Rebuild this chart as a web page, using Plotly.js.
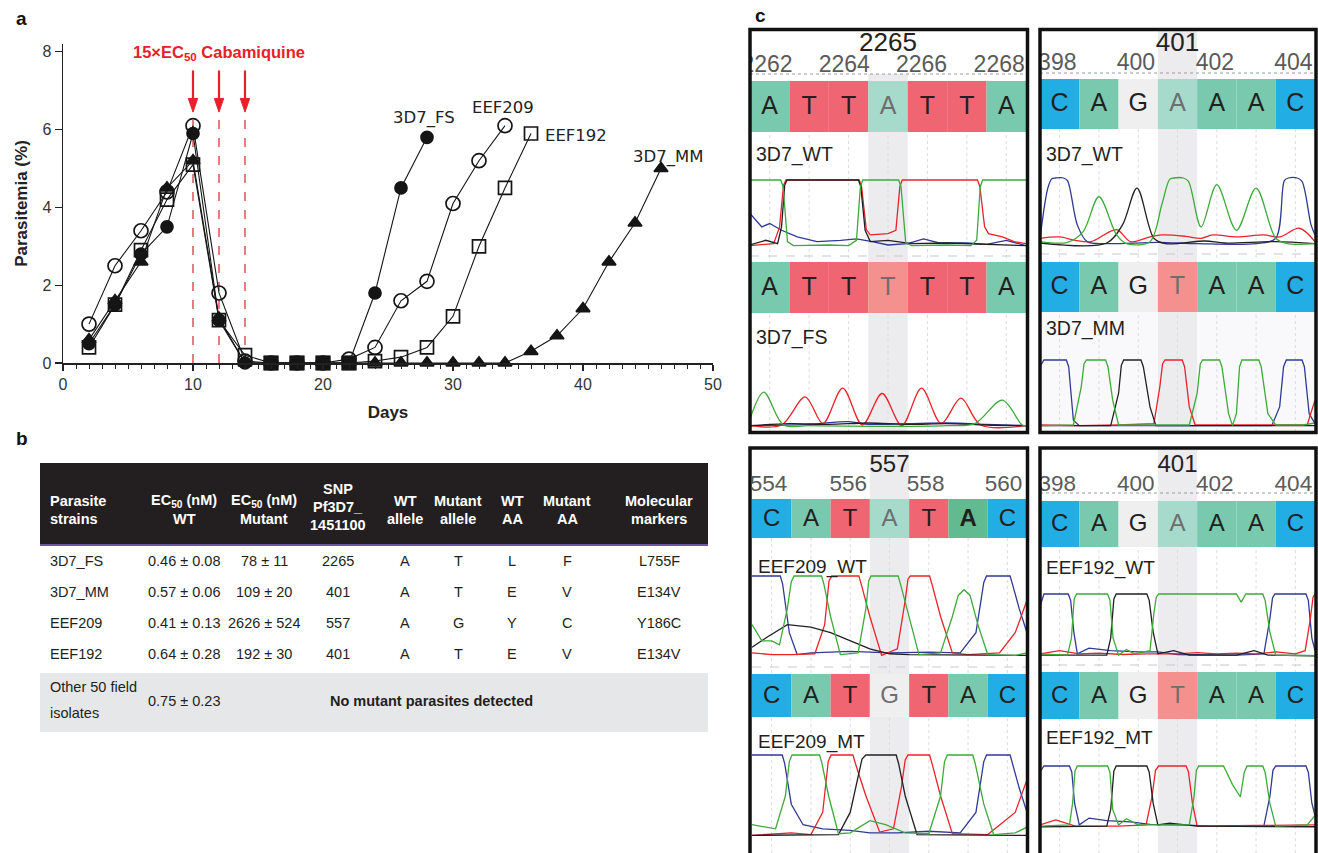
<!DOCTYPE html>
<html><head><meta charset="utf-8">
<script src="https://cdn.plot.ly/plotly-3.0.1.min.js"></script>
<style>html,body{margin:0;padding:0;background:#fff;} #chart{width:1318px;height:853px;}</style>
</head><body><div id="chart"></div>
<script>
// ---------------- Panel a data ----------------
const days = [2,4,6,8,10,12,14,16,18,20,22,24,26,28,30,32,34,36,38,40,42,44,46];
const pct_3D7_FS  = [0.5,1.5,2.8,3.5,5.9,1.1,0,0,0,0,0,1.8,4.5,5.8];
const pct_EEF209  = [1.0,2.5,3.4,4.4,6.1,1.8,0.05,0,0,0,0.1,0.4,1.6,2.1,4.1,5.2,6.1];
const pct_EEF192  = [0.4,1.5,2.9,4.2,5.1,1.1,0.2,0,0,0,0,0.05,0.15,0.4,1.2,3.0,4.5,5.9];
const pct_3D7_MM  = [0.6,1.6,2.6,4.5,5.2,1.15,0,0,0,0,0,0,0,0,0,0,0,0.3,0.7,1.4,2.6,3.6,5.0];
const eef192_solid_days = [16,18,20,22];   // points drawn as solid squares in the original
const dose_days = [10,12,14];
const series_names = ['3D7_FS','EEF209','EEF192','3D7_MM'];

// ---------------- Panel b data ----------------
const tbl_headers = [['Parasite','strains'],['EC<sub>50</sub> (nM)','WT'],['EC<sub>50</sub> (nM)','Mutant'],['SNP','Pf3D7_','1451100'],['WT','allele'],['Mutant','allele'],['WT','AA'],['Mutant','AA'],['Molecular','markers']];
const tbl_strains   = ['3D7_FS','3D7_MM','EEF209','EEF192'];
const tbl_ec50_wt   = ['0.46 ± 0.08','0.57 ± 0.06','0.41 ± 0.13','0.64 ± 0.28'];
const tbl_ec50_mut  = ['78 ± 11','109 ± 20','2626 ± 524','192 ± 30'];
const tbl_snp       = ['2265','401','557','401'];
const tbl_wt_allele = ['A','A','A','A'];
const tbl_mut_allele= ['T','T','G','T'];
const tbl_wt_aa     = ['L','E','Y','E'];
const tbl_mut_aa    = ['F','V','C','V'];
const tbl_markers   = ['L755F','E134V','Y186C','E134V'];
const tbl_other_name = ['Other 50 field','isolates'];
const tbl_other_ec50 = '0.75 ± 0.23';
const tbl_other_note = 'No mutant parasites detected';

// ---------------- Panel c data ----------------
const pos_2265 = [2262,2264,2266,2268]; const snp_2265 = 2265;
const pos_401  = [398,400,402,404];     const snp_401 = 401;
const pos_557  = [554,556,558,560];     const snp_557 = 557;
const seq_2265_WT = ['A','T','T','A','T','T','A'];
const seq_2265_FS = ['A','T','T','T','T','T','A'];
const seq_401_WT  = ['C','A','G','A','A','A','C'];
const seq_401_MM  = ['C','A','G','T','A','A','C'];
const seq_557_WT  = ['C','A','T','A','T','A','C'];
const seq_557_MT  = ['C','A','T','G','T','A','C'];
const seq_401b_WT = ['C','A','G','A','A','A','C'];
const seq_401b_MT = ['C','A','G','T','A','A','C'];
const track_names = ['3D7_WT','3D7_FS','3D7_WT','3D7_MM','EEF209_WT','EEF209_MT','EEF192_WT','EEF192_MT'];

// chromatogram signal read at [base position, relative height]
const chrom_2265_WT = {
 A:[[0.5,1],[1.28,1],[1.34,0.9],[1.45,0.08],[1.6,0.02],[2.5,0.03],[3.0,0.02],[3.2,0.1],[3.3,0.9],[3.36,1],[4.27,1],[4.33,0.9],[4.45,0.06],[4.6,0.02],[5.5,0.03],[6.1,0.02],[6.25,0.1],[6.34,0.9],[6.4,1],[7.5,1]],
 T:[[0.5,0.02],[1.1,0.05],[1.25,0.3],[1.35,0.92],[1.41,1],[3.27,1],[3.33,0.9],[3.45,0.26],[3.55,0.18],[4.0,0.2],[4.2,0.25],[4.3,0.9],[4.36,1],[6.27,1],[6.33,0.9],[6.45,0.3],[6.55,0.2],[6.9,0.15],[7.2,0.08],[7.5,0.05]],
 G:[[0.5,0.03],[0.9,0.1],[1.2,0.05],[1.3,0.3],[1.38,0.92],[1.44,1],[3.25,1],[3.31,0.9],[3.42,0.25],[3.55,0.08],[4.0,0.1],[4.6,0.05],[5.5,0.06],[6.0,0.05],[7.0,0.04],[7.5,0.02]],
 C:[[0.5,0.5],[0.8,0.3],[1.0,0.35],[1.3,0.25],[1.7,0.15],[2.2,0.08],[2.8,0.1],[3.2,0.12],[3.6,0.08],[4.0,0.03],[4.5,0.05],[4.9,0.12],[5.3,0.06],[6.0,0.06],[6.5,0.04],[7.0,0.1],[7.5,0.02]]
};
const chrom_2265_FS = {
 A:[[0.5,0.12],[0.85,0.52],[1.35,0.03],[2,0.02],[5.5,0.02],[6.2,0.05],[6.9,0.4],[7.4,0.03],[7.5,0.02]],
 T:[[0.5,0.02],[1.3,0.03],[1.9,0.45],[2.35,0.05],[2.85,0.58],[3.35,0.03],[3.85,0.5],[4.35,0.02],[4.85,0.58],[5.35,0.05],[5.85,0.43],[6.35,0.03],[7.5,0.02]],
 G:[[0.5,0.02],[1.5,0.05],[2.5,0.04],[3.5,0.06],[4.5,0.04],[5.5,0.05],[6.5,0.03],[7.5,0.02]],
 C:[[0.5,0.02],[2.0,0.04],[3.0,0.08],[3.5,0.04],[4.5,0.05],[5.5,0.06],[6.5,0.04],[7.5,0.02]]
};
const chrom_401_WT = {
 C:[[0.5,0.1],[0.7,0.85],[0.8,0.99],[0.9,1],[1.1,1],[1.2,0.96],[1.45,0.3],[1.7,0.05],[2.2,0.02],[3.5,0.04],[4.5,0.02],[6.0,0.02],[6.5,0.1],[6.72,0.96],[6.82,1],[7.05,1],[7.17,0.95],[7.4,0.3],[7.5,0.15]],
 A:[[0.5,0.05],[1.2,0.04],[1.6,0.2],[2.0,0.72],[2.45,0.15],[2.7,0.02],[3.3,0.05],[3.6,0.6],[3.8,0.98],[3.9,1],[4.15,1],[4.28,0.95],[4.6,0.27],[5.0,0.9],[5.5,0.22],[6.0,0.85],[6.5,0.1],[6.8,0.02],[7.5,0.02]],
 G:[[0.5,0.03],[2.2,0.03],[2.6,0.3],[2.97,0.85],[3.4,0.1],[3.7,0.02],[4.7,0.06],[5.2,0.03],[6.5,0.05],[7.5,0.02]],
 T:[[0.5,0.1],[1.0,0.12],[1.4,0.07],[1.8,0.05],[2.45,0.23],[2.8,0.05],[3.3,0.12],[3.6,0.15],[4.2,0.13],[4.6,0.1],[4.9,0.15],[5.5,0.12],[6.2,0.15],[6.6,0.12],[7.1,0.25],[7.5,0.05]]
};
const chrom_401_MM = {
 C:[[0.5,0.9],[0.6,1],[1.17,1],[1.23,0.9],[1.35,0.1],[1.5,0.02],[6.4,0.02],[6.6,0.3],[6.7,0.9],[6.77,1],[7.17,1],[7.23,0.9],[7.35,0.2],[7.5,0.05]],
 A:[[0.5,0.02],[1.35,0.03],[1.55,0.6],[1.62,0.94],[1.68,1],[2.17,1],[2.23,0.9],[2.35,0.4],[2.5,0.03],[4.3,0.03],[4.5,0.5],[4.58,0.94],[4.64,1],[5.07,1],[5.13,0.9],[5.3,0.2],[5.4,0.02],[5.5,0.2],[5.58,0.9],[5.64,1],[6.07,1],[6.13,0.9],[6.3,0.2],[6.5,0.03],[7.2,0.03],[7.5,0.06]],
 G:[[0.5,0.02],[2.3,0.02],[2.5,0.5],[2.57,0.92],[2.63,1],[3.07,1],[3.13,0.9],[3.3,0.3],[3.45,0.02],[7.5,0.02]],
 T:[[0.5,0.03],[1.5,0.02],[2.5,0.03],[3.4,0.05],[3.55,0.6],[3.62,0.94],[3.68,1],[4.12,1],[4.18,0.9],[4.3,0.3],[4.45,0.03],[7.3,0.03],[7.5,0.4]]
};
const chrom_557_WT = {
 C:[[0.5,1],[1.22,1],[1.28,0.9],[1.45,0.3],[1.65,0.03],[2.0,0.05],[3.0,0.07],[4.0,0.05],[5.0,0.06],[5.8,0.05],[6.2,0.3],[6.4,0.92],[6.47,1],[7.07,1],[7.13,0.9],[7.3,0.6],[7.5,0.3]],
 A:[[0.5,0.4],[0.75,0.2],[1.0,0.2],[1.2,0.15],[1.4,0.6],[1.5,0.93],[1.57,1],[2.27,1],[2.33,0.9],[2.5,0.5],[2.75,0.03],[3.2,0.05],[3.4,0.6],[3.47,0.94],[3.53,1],[4.22,1],[4.28,0.9],[4.5,0.5],[4.75,0.03],[5.3,0.05],[5.6,0.5],[5.75,0.76],[5.9,0.83],[6.05,0.76],[6.25,0.4],[6.5,0.03],[7.2,0.02],[7.5,0.05]],
 G:[[0.5,0.12],[0.9,0.25],[1.4,0.4],[2.0,0.37],[2.5,0.3],[3.0,0.2],[3.5,0.1],[4.0,0.04],[4.5,0.03],[7.5,0.02]],
 T:[[0.5,0.05],[1.0,0.03],[1.5,0.03],[2.1,0.04],[2.35,0.4],[2.46,0.94],[2.53,1],[3.22,1],[3.28,0.9],[3.5,0.5],[3.8,0.02],[4.2,0.1],[4.4,0.7],[4.47,0.96],[4.53,1],[5.02,1],[5.08,0.9],[5.3,0.5],[5.6,0.05],[6.0,0.03],[6.8,0.05],[7.2,0.3],[7.5,0.7]]
};
const chrom_557_MT = {
 C:[[0.5,1],[1.27,1],[1.33,0.9],[1.5,0.4],[1.8,0.15],[2.3,0.1],[3.0,0.08],[3.5,0.05],[4.2,0.05],[5.0,0.07],[5.8,0.05],[6.2,0.3],[6.4,0.92],[6.47,1],[7.07,1],[7.13,0.9],[7.3,0.6],[7.5,0.3]],
 A:[[0.5,0.15],[1.1,0.1],[1.35,0.5],[1.45,0.92],[1.52,1],[2.22,1],[2.28,0.9],[2.45,0.5],[2.7,0.04],[3.0,0.05],[3.5,0.2],[3.9,0.15],[4.4,0.05],[5.0,0.04],[5.3,0.5],[5.4,0.92],[5.47,1],[6.12,1],[6.18,0.9],[6.4,0.4],[6.65,0.03],[7.2,0.05],[7.5,0.12]],
 G:[[0.5,0.02],[2.7,0.03],[3.0,0.3],[3.3,0.95],[3.4,1],[4.17,1],[4.23,0.9],[4.4,0.5],[4.7,0.03],[7.5,0.02]],
 T:[[0.5,0.02],[1.5,0.05],[2.0,0.03],[2.3,0.3],[2.44,0.92],[2.51,1],[3.07,1],[3.13,0.9],[3.4,0.5],[3.75,0.06],[4.1,0.1],[4.3,0.6],[4.4,0.94],[4.47,1],[5.02,1],[5.08,0.9],[5.3,0.5],[5.6,0.04],[6.5,0.03],[7.2,0.3],[7.5,0.7]]
};
const chrom_401b_WT = {
 C:[[0.5,0.8],[0.6,1],[1.22,1],[1.28,0.9],[1.36,0.4],[1.45,0.05],[1.75,0.14],[2.3,0.1],[3.0,0.08],[3.5,0.08],[4.0,0.04],[5.5,0.03],[6.2,0.05],[6.35,0.6],[6.42,0.94],[6.48,1],[7.27,1],[7.33,0.9],[7.42,0.3],[7.5,0.1]],
 A:[[0.5,0.05],[1.2,0.03],[1.3,0.3],[1.37,0.92],[1.43,1],[2.22,1],[2.28,0.9],[2.36,0.3],[2.5,0.03],[2.7,0.12],[2.9,0.05],[3.3,0.1],[3.4,0.7],[3.46,0.95],[3.52,1],[5.5,1],[5.62,0.87],[5.74,1],[6.17,1],[6.23,0.9],[6.35,0.4],[6.5,0.03],[7.5,0.02]],
 G:[[0.5,0.03],[2.2,0.03],[2.3,0.3],[2.38,0.92],[2.44,1],[3.22,1],[3.28,0.9],[3.38,0.4],[3.5,0.05],[3.9,0.1],[4.3,0.03],[5.5,0.03],[5.95,0.1],[6.3,0.03],[7.5,0.02]],
 T:[[0.5,0.05],[1.0,0.1],[1.5,0.05],[2.0,0.06],[2.6,0.04],[3.2,0.05],[4.0,0.05],[4.5,0.07],[5.0,0.05],[5.5,0.06],[6.0,0.05],[6.5,0.08],[7.0,0.05],[7.25,0.1],[7.38,0.6],[7.45,0.95],[7.5,1]]
};
const chrom_401b_MT = {
 C:[[0.5,0.9],[0.6,1],[1.25,1],[1.31,0.9],[1.38,0.4],[1.5,0.05],[1.75,0.16],[2.2,0.12],[2.8,0.1],[3.3,0.06],[4.0,0.05],[5.0,0.03],[6.2,0.04],[6.35,0.5],[6.43,0.93],[6.5,1],[7.27,1],[7.33,0.9],[7.42,0.4],[7.5,0.2]],
 A:[[0.5,0.03],[1.25,0.05],[1.33,0.4],[1.39,0.92],[1.45,1],[2.22,1],[2.28,0.9],[2.35,0.3],[2.5,0.05],[2.7,0.15],[3.0,0.05],[4.3,0.05],[4.42,0.5],[4.48,0.93],[4.54,1],[5.17,1],[5.25,0.9],[5.4,0.7],[5.6,0.5],[5.7,0.9],[5.77,1],[6.17,1],[6.23,0.9],[6.35,0.4],[6.5,0.03],[7.3,0.05],[7.5,0.2]],
 G:[[0.5,0.02],[2.2,0.03],[2.3,0.3],[2.38,0.92],[2.44,1],[3.22,1],[3.28,0.9],[3.38,0.4],[3.5,0.05],[3.8,0.08],[4.5,0.03],[7.5,0.02]],
 T:[[0.5,0.05],[0.9,0.13],[1.4,0.03],[2.5,0.03],[3.2,0.05],[3.35,0.5],[3.44,0.93],[3.52,1],[4.22,1],[4.28,0.9],[4.38,0.4],[4.5,0.03],[6.0,0.04],[7.0,0.05],[7.5,0.05]]
};

// ---------------- layout helpers ----------------
const W = 1318, H = 853;
const SANS = 'Liberation Sans, Arial, Helvetica, sans-serif';
const VERD = 'DejaVu Sans, Verdana, sans-serif';
const px = x => x / W;
const py = y => 1 - y / H;
const traces = [], shapes = [], annotations = [];
const layout = {
  width: W, height: H, margin: {l:0, r:0, t:0, b:0},
  paper_bgcolor: '#ffffff', plot_bgcolor: 'rgba(0,0,0,0)', showlegend: false,
  font: {family: SANS, color: '#222'}
};

// ---------------- Panel a ----------------
layout.xaxis = {domain:[px(63), px(713)], range:[0,50], anchor:'y', tickvals:[0,10,20,30,40,50],
  ticks:'outside', ticklen:6, tickwidth:1.3, tickcolor:'#222', showline:true, linecolor:'#222', linewidth:1.5,
  showgrid:false, zeroline:false, tickfont:{family:SANS, size:16, color:'#333'},
  minor:{tickvals:Array.from({length:49},(_,i)=>i+1), ticks:'outside', ticklen:4, tickwidth:1, tickcolor:'#222', showgrid:false},
  title:{text:'<b>Days</b>', font:{family:SANS, size:17, color:'#222'}, standoff:14}};
layout.yaxis = {domain:[py(363), py(44)], range:[0,8.2], anchor:'x', tickvals:[0,2,4,6,8],
  ticks:'outside', ticklen:7, tickwidth:1.3, tickcolor:'#222', showline:true, linecolor:'#222', linewidth:1.5,
  showgrid:false, zeroline:false, tickfont:{family:SANS, size:16, color:'#333'},
  title:{text:'<b>Parasitemia (%)</b>', font:{family:SANS, size:17, color:'#222'}, standoff:10}};

const INK = '#151515';
function series(y, symbol, size, name){
  return {type:'scatter', mode:'lines+markers', name, x:days.slice(0,y.length), y, xaxis:'x', yaxis:'y',
    cliponaxis:false, hoverinfo:'skip', line:{color:INK, width:1.1},
    marker:{symbol, size, color:INK, line:{color:INK, width:1.7}}};
}
traces.push(series(pct_3D7_MM, 'triangle-up', 12, series_names[3]));
traces.push(series(pct_3D7_FS, 'circle', 12, series_names[0]));
traces.push(series(pct_EEF192, 'square-open', 13, series_names[2]));
{
  const idx = days.map((d,i)=>i).filter(i=> i < pct_EEF192.length && eef192_solid_days.includes(days[i]));
  traces.push({type:'scatter', mode:'markers', x:idx.map(i=>days[i]), y:idx.map(i=>pct_EEF192[i]), xaxis:'x', yaxis:'y',
    cliponaxis:false, hoverinfo:'skip', marker:{symbol:'square', size:15, color:INK, line:{width:0}}});
}
traces.push(series(pct_EEF209, 'circle-open', 14, series_names[1]));

// dosing marks: dashed guide, arrow shaft and arrow head (drawn as shapes on the data axes)
const RED = '#E8202A';
dose_days.forEach(d=>{
  shapes.push({type:'line', xref:'x', yref:'y', x0:d, x1:d, y0:0, y1:6.4, line:{color:'#D92330', width:1.2, dash:'dash'}, layer:'below'});
  shapes.push({type:'line', xref:'x', yref:'y', x0:d, x1:d, y0:7.52, y1:6.75, line:{color:RED, width:2.2}});
  shapes.push({type:'path', xref:'x', yref:'y', path:`M ${d-0.36},6.8 L ${d+0.36},6.8 L ${d},6.45 Z`, fillcolor:RED, line:{color:RED, width:1}});
});
annotations.push({xref:'x', yref:'paper', x:12, y:py(53), text:'<b>15×EC<sub>50</sub> Cabamiquine</b>', showarrow:false,
  font:{family:SANS, size:16.5, color:RED}, xanchor:'center', yanchor:'middle'});
const labelPos = [{x:27.8, y:6.3, xa:'center'}, {x:33.85, y:6.58, xa:'center'}, {x:36.9, y:5.86, xa:'left'}, {x:46.5, y:5.3, xa:'center'}];
series_names.forEach((n,i)=>annotations.push({xref:'x', yref:'y', x:labelPos[i].x, y:labelPos[i].y, text:n, showarrow:false,
  xanchor:labelPos[i].xa, yanchor:'middle', font:{family:VERD, size:16.5, color:'#222'}}));

[['a',14,18],['b',14,438],['c',753,16]].forEach(([t,x,y])=>annotations.push({xref:'paper', yref:'paper', x:px(x), y:py(y), text:'<b>'+t+'</b>',
  showarrow:false, xanchor:'left', yanchor:'middle', font:{family:SANS, size:19, color:'#111'}}));

// ---------------- Panel b (table) ----------------
const tblL = 40, tblR = 708;
shapes.push({type:'rect', xref:'paper', yref:'paper', x0:px(tblL), x1:px(tblR), y0:py(544), y1:py(463), fillcolor:'#231F20', line:{width:0}, layer:'below'});
shapes.push({type:'line', xref:'paper', yref:'paper', x0:px(tblL), x1:px(tblR), y0:py(545), y1:py(545), line:{color:'#6B55A8', width:2}, layer:'below'});
shapes.push({type:'rect', xref:'paper', yref:'paper', x0:px(tblL), x1:px(tblR), y0:py(732), y1:py(673), fillcolor:'#E6E7E9', line:{width:0}, layer:'below'});
const colX = [48,184,264,338,405,458,512,567,659];
const hdrLines = {2:[501,518.5], 3:[489,507,525]};
tbl_headers.forEach((lines,c)=>{
  const ys = hdrLines[lines.length];
  lines.forEach((t,k)=>annotations.push({xref:'paper', yref:'paper', x:px(colX[c]), y:py(ys[k]), text:'<b>'+t+'</b>', showarrow:false,
    xanchor: c===0 ? 'left':'center', yanchor:'middle', font:{family:SANS, size:14.5, color:'#ffffff'}}));
});
const rowY = [561,592,623,654];
const cols = [tbl_strains, tbl_ec50_wt, tbl_ec50_mut, tbl_snp, tbl_wt_allele, tbl_mut_allele, tbl_wt_aa, tbl_mut_aa, tbl_markers];
cols.forEach((col,c)=>col.forEach((t,r)=>annotations.push({xref:'paper', yref:'paper', x:px(colX[c]), y:py(rowY[r]), text:t, showarrow:false,
  xanchor: c===0 ? 'left':'center', yanchor:'middle', font:{family:SANS, size:14.5, color:'#231F20'}})));
tbl_other_name.forEach((t,k)=>annotations.push({xref:'paper', yref:'paper', x:px(colX[0]), y:py([687,713][k]), text:t, showarrow:false,
  xanchor:'left', yanchor:'middle', font:{family:SANS, size:14.5, color:'#231F20'}}));
annotations.push({xref:'paper', yref:'paper', x:px(colX[1]), y:py(701), text:tbl_other_ec50, showarrow:false, xanchor:'center', yanchor:'middle', font:{family:SANS, size:14.5, color:'#231F20'}});
annotations.push({xref:'paper', yref:'paper', x:px(431), y:py(701), text:'<b>'+tbl_other_note+'</b>', showarrow:false, xanchor:'center', yanchor:'middle', font:{family:SANS, size:14.5, color:'#231F20'}});

// ---------------- Panel c (chromatograms) ----------------
const baseFill   = {A:'#78C9AD', T:'#EF6571', C:'#22ADE4', G:'#EFEFEF'};
const baseFillHL = {A:'#A6DBCB', T:'#F4918F', C:'#7FD0F0', G:'#EFEFEF'};
const chromColor = {A:'#3DAA3A', C:'#2E3A94', G:'#231F20', T:'#E8232A'};

const boxes = [
 {cx:[750,1026], frame:[750,1027.5,29.5,432.5], bot:432, pos:pos_2265, snp:snp_2265, bigY:44, numY:66, numShift:[-0.07,-0.11,-0.15,-0.18], dashY:74, bandTop:74,
  letter:25, num:23, big:26, lab:19.5, sepY:256,
  rows:[{seq:seq_2265_WT, t:81, b:132, name:track_names[0], ly:155, chrom:chrom_2265_WT, ct:180, cb:247, smooth:false},
        {seq:seq_2265_FS, t:262, b:313, name:track_names[1], ly:337, chrom:chrom_2265_FS, ct:360, cb:427, smooth:true}]},
 {cx:[1040,1315], frame:[1040,1316,29.5,432.5], bot:432, pos:pos_401, snp:snp_401, bigY:44, numY:64, numShift:[-0.06,-0.06,-0.05,-0.05], dashY:73, bandTop:31,
  letter:25, num:23, big:26, lab:19.5, sepY:254, shadeLower:312,
  rows:[{seq:seq_401_WT, t:79, b:129, name:track_names[2], ly:155, chrom:chrom_401_WT, ct:178, cb:245, smooth:true},
        {seq:seq_401_MM, t:262, b:312, name:track_names[3], ly:328, chrom:chrom_401_MM, ct:360, cb:427, smooth:false}]},
 {cx:[752,1027], frame:[750,1027.5,448,870], bot:853, pos:pos_557, snp:snp_557, bigY:466, numY:485, numShift:[-0.08,-0.05,-0.08,-0.1], dashY:null, bandTop:450,
  letter:24, num:22.5, big:24, lab:19, sepY:667, emph:[0,5],
  rows:[{seq:seq_557_WT, t:499, b:538, name:track_names[4], ly:567, chrom:chrom_557_WT, ct:576, cb:657, smooth:false},
        {seq:seq_557_MT, t:674, b:717, name:track_names[5], ly:742, chrom:chrom_557_MT, ct:755, cb:837, smooth:false}]},
 {cx:[1040,1315], frame:[1040,1316,448,870], bot:853, pos:pos_401, snp:snp_401, bigY:466, numY:485, numShift:[-0.06,-0.06,-0.05,-0.05], dashY:493, bandTop:450,
  letter:24, num:22.5, big:24, lab:19, sepY:665,
  rows:[{seq:seq_401b_WT, t:501, b:547, name:track_names[6], ly:568, chrom:chrom_401b_WT, ct:594, cb:657, smooth:false},
        {seq:seq_401b_MT, t:672, b:719, name:track_names[7], ly:738, chrom:chrom_401b_MT, ct:766, cb:828, smooth:false}]}
];

let yIdx = 6;
const HL = 4;
const colsIdx = [1,2,3,4,5,6,7];
boxes.forEach((bx,k)=>{
  const xa = 'x'+(k+2), ya = 'y'+(k+2);
  const top = bx.frame[2];
  layout['xaxis'+(k+2)] = {domain:[px(bx.cx[0]), px(bx.cx[1])], range:[0.5,7.5], visible:false, anchor:ya, fixedrange:true};
  layout['yaxis'+(k+2)] = {domain:[py(bx.bot), py(top)], range:[bx.bot, top], visible:false, anchor:xa, fixedrange:true};
  shapes.push({type:'rect', xref:xa, yref:'paper', x0:HL-0.5, x1:HL+0.5, y0:py(bx.bot), y1:py(bx.bandTop), fillcolor:'#ECECEE', line:{width:0}, layer:'below'});
  if (bx.shadeLower) shapes.push({type:'rect', xref:xa, yref:'paper', x0:0.5, x1:HL-0.5, y0:py(bx.bot), y1:py(bx.shadeLower), fillcolor:'#F9F9FB', line:{width:0}, layer:'below'},
                               {type:'rect', xref:xa, yref:'paper', x0:HL+0.5, x1:7.5, y0:py(bx.bot), y1:py(bx.shadeLower), fillcolor:'#F9F9FB', line:{width:0}, layer:'below'});
  colsIdx.forEach(i=>shapes.push({type:'line', xref:xa, yref:'paper', x0:i, x1:i, y0:py(bx.bot), y1:py(bx.rows[0].b), line:{color:'#DCDCDC', width:1, dash:'dot'}, layer:'below'}));
  if (bx.dashY) shapes.push({type:'line', xref:xa, yref:'paper', x0:0.5, x1:7.5, y0:py(bx.dashY), y1:py(bx.dashY), line:{color:'#9A9A9A', width:1, dash:'dot'}, layer:'below'});
  shapes.push({type:'line', xref:xa, yref:'paper', x0:0.5, x1:7.5, y0:py(bx.sepY), y1:py(bx.sepY), line:{color:'#C9C9CF', width:1.2, dash:'dash'}, layer:'below'});
  shapes.push({type:'rect', xref:'paper', yref:'paper', x0:px(bx.frame[0]), x1:px(bx.frame[1]), y0:py(bx.frame[3]), y1:py(bx.frame[2]), line:{color:'#111', width:3.5}, fillcolor:'rgba(0,0,0,0)', layer:'above'});
  traces.push({type:'scatter', mode:'text', xaxis:xa, yaxis:ya, x:[1,3,5,7].map((v,j)=>v+bx.numShift[j]), y:bx.pos.map(()=>bx.numY), text:bx.pos.map(String),
    textposition:'middle center', cliponaxis:true, hoverinfo:'skip', textfont:{family:SANS, size:bx.num, color:'#5A5A5A'}});
  traces.push({type:'scatter', mode:'text', xaxis:xa, yaxis:ya, x:[HL], y:[bx.bigY], text:[String(bx.snp)],
    textposition:'middle center', cliponaxis:true, hoverinfo:'skip', textfont:{family:SANS, size:bx.big, color:'#222'}});
  bx.rows.forEach((r,ri)=>{
    r.seq.forEach((b,i)=>{
      let fill = (i+1===HL) ? baseFillHL[b] : baseFill[b];
      if (bx.emph && bx.emph[0]===ri && bx.emph[1]===i) fill = '#62BB90';
      shapes.push({type:'rect', xref:xa, yref:'paper', x0:i+0.5, x1:i+1.5, y0:py(r.b), y1:py(r.t), fillcolor:fill, line:{width:0}, layer:'below'});
    });
    traces.push({type:'scatter', mode:'text', xaxis:xa, yaxis:ya, x:colsIdx, y:r.seq.map(()=> (r.t+r.b)/2 + 1),
      text:r.seq.map((b,i)=> (bx.emph && bx.emph[0]===ri && bx.emph[1]===i) ? '<b>'+b+'</b>' : b),
      textposition:'middle center', cliponaxis:false, hoverinfo:'skip',
      textfont:{family:SANS, size:bx.letter, color:r.seq.map((b,i)=> i+1===HL ? '#6E6E6E' : '#231F20')}});
    annotations.push({xref:xa, yref:'paper', x:0.6, y:py(r.ly), text:r.name, showarrow:false, xanchor:'left', yanchor:'middle',
      font:{family:SANS, size:bx.lab, color:'#231F20'}});
    const yName = 'y'+yIdx, h = r.cb - r.ct, pad = 0.08;
    layout['yaxis'+yIdx] = {domain:[py(r.cb + pad*h), py(r.ct - pad*h)], range:[-pad, 1+pad], visible:false, anchor:xa, fixedrange:true};
    ['C','T','G','A'].forEach(ch=>{
      const pts = r.chrom[ch];
      traces.push({type:'scatter', mode:'lines', xaxis:xa, yaxis:yName, x:pts.map(p=>p[0]), y:pts.map(p=>p[1]),
        line:{color:chromColor[ch], width:1.3, shape: r.smooth ? 'spline' : 'linear', smoothing:0.9}, hoverinfo:'skip'});
    });
    yIdx++;
  });
});

layout.shapes = shapes;
layout.annotations = annotations;
Plotly.newPlot('chart', traces, layout, {staticPlot:true, displayModeBar:false});
</script>
</body></html>
